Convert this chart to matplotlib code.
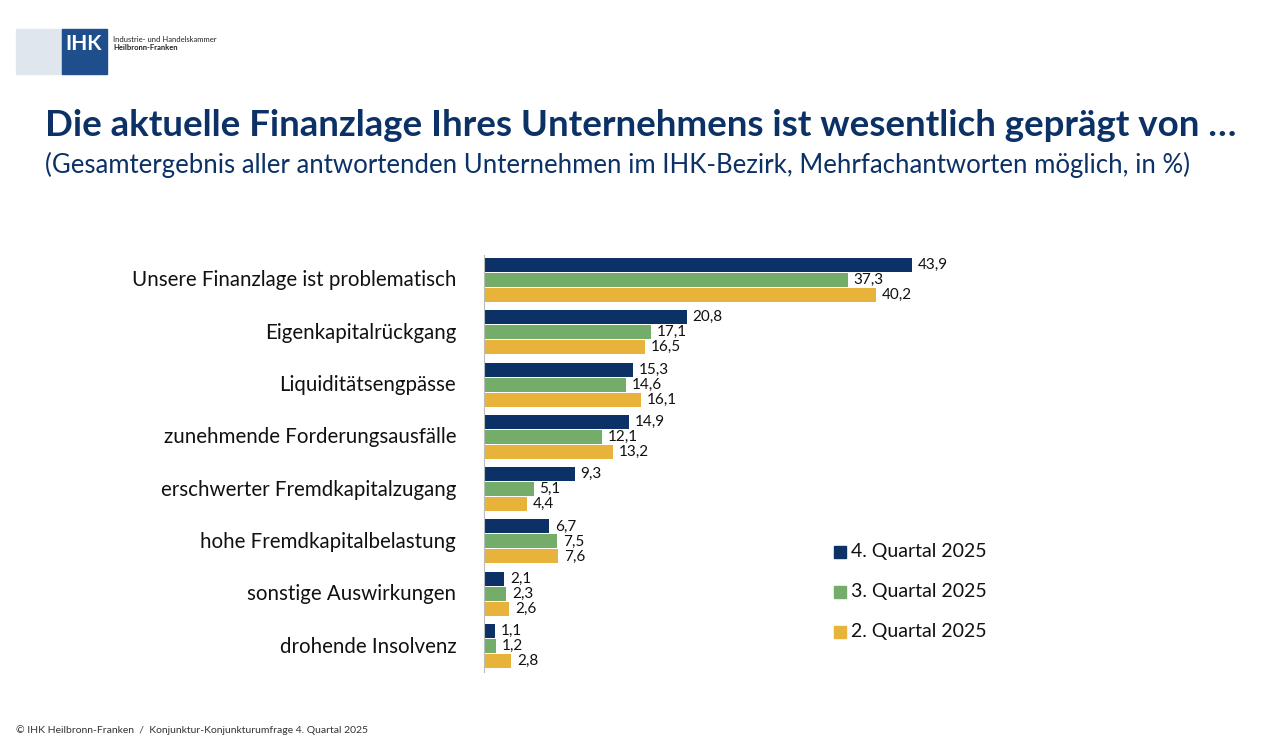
import matplotlib
matplotlib.use("Agg")
import matplotlib.pyplot as plt
from matplotlib.patches import Rectangle
import numpy as np

categories = ["Unsere Finanzlage ist problematisch", "Eigenkapitalrückgang", "Liquiditätsengpässe",
              "zunehmende Forderungsausfälle", "erschwerter Fremdkapitalzugang", "hohe Fremdkapitalbelastung",
              "sonstige Auswirkungen", "drohende Insolvenz"]
q4 = [43.9, 20.8, 15.3, 14.9, 9.3, 6.7, 2.1, 1.1]
q3 = [37.3, 17.1, 14.6, 12.1, 5.1, 7.5, 2.3, 1.2]
q2 = [40.2, 16.5, 16.1, 13.2, 4.4, 7.6, 2.6, 2.8]
series_names = ["4. Quartal 2025", "3. Quartal 2025", "2. Quartal 2025"]
colors = ["#0B3166", "#74AD6A", "#E8B33A"]
navy = "#0B3166"

plt.rcParams['font.family'] = ['Lato', 'DejaVu Sans']
W, H = 1280, 751
fig = plt.figure(figsize=(W/100, H/100), dpi=100)

ax = fig.add_axes([484/W, 1-672/H, (1180-484)/W, (672-255)/H])
n = len(categories)
centers = np.arange(n) * 52.3 + 280
bh = 14
for si, (vals, c) in enumerate(zip([q4, q3, q2], colors)):
    ys = centers + (si - 1) * 15
    ax.barh(ys, vals, height=bh, color=c, zorder=2)
    for y, v in zip(ys, vals):
        ax.text(v + 0.6, y, f"{v:.1f}".replace(".", ","), va="center", ha="left", fontsize=11, color="#111111")
ax.set_ylim(672, 255)
ax.set_xlim(0, (1180-484)/9.75)
for s in ["top", "right", "bottom"]:
    ax.spines[s].set_visible(False)
ax.spines["left"].set_color("#bbbbbb")
ax.set_xticks([])
ax.set_yticks(centers - 1.5)
ax.set_yticklabels(categories, fontsize=14.8, color="#111111")
ax.tick_params(axis="y", length=0, pad=20)

for i, (name, c) in enumerate(zip(series_names, colors)):
    y = 552 + i * 40
    fig.patches.append(Rectangle((834/W, 1-(y+6)/H), 12/W, 12/H, color=c, transform=fig.transFigure))
    fig.text(851/W, 1-y/H, name, fontsize=14, va="center", ha="left", color="#111111")

fig.text(45/W, 1-125/H, "Die aktuelle Finanzlage Ihres Unternehmens ist wesentlich geprägt von …",
         fontsize=26.4, fontweight="bold", color=navy, va="center", ha="left")
fig.text(45/W, 1-165/H, "(Gesamtergebnis aller antwortenden Unternehmen im IHK-Bezirk, Mehrfachantworten möglich, in %)",
         fontsize=18.5, color=navy, va="center", ha="left")

fig.patches.append(Rectangle((16/W, 1-74/H), 46/W, 45/H, color="#dfe6ee", transform=fig.transFigure))
fig.patches.append(Rectangle((62/W, 1-74/H), 45/W, 45/H, color="#1f4e8c", transform=fig.transFigure))
fig.text(84/W, 1-44/H, "IHK", fontsize=15, fontweight="bold", color="white", ha="center", va="center")
fig.text(113/W, 1-40/H, "Industrie- und Handelskammer", fontsize=5.5, color="#222222", va="center")
fig.text(113/W, 1-48/H, "Heilbronn-Franken", fontsize=5.5, fontweight="bold", color="#222222", va="center")

fig.text(16/W, 1-730/H, "© IHK Heilbronn-Franken  /  Konjunktur-Konjunkturumfrage 4. Quartal 2025",
         fontsize=7.5, color="#333333", va="center")

fig.savefig("out.png", dpi=100)
